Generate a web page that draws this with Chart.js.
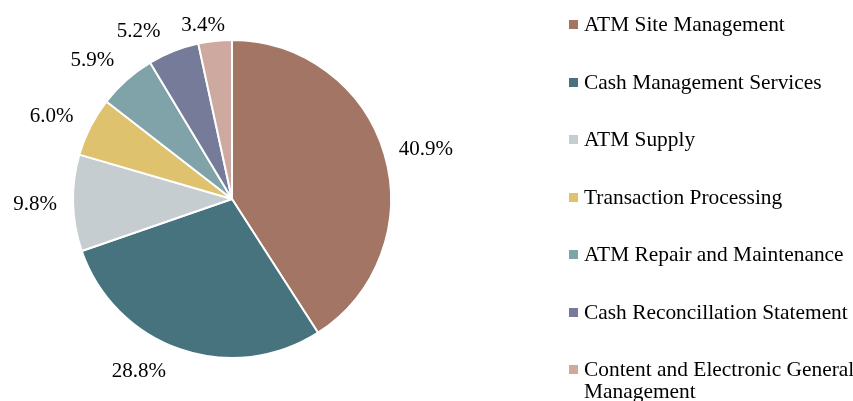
<!DOCTYPE html>
<html>
<head>
<meta charset="utf-8">
<script src="https://cdn.jsdelivr.net/npm/chart.js@4.4.1/dist/chart.umd.min.js"></script>
<style>
  html, body { margin: 0; padding: 0; background: #fff; }
  #wrap { position: relative; width: 853px; height: 401px; overflow: hidden; }
  #c { position: absolute; left: 0; top: 0; }
  .lg { position: absolute; left: 569px; font-family: "Liberation Serif", "Times New Roman", serif; font-size: 21.4px; color: #000; line-height: 22px; }
  .lg .box { position: absolute; left: 0; top: 7px; width: 9px; height: 9px; }
  .lg .txt { position: absolute; left: 15px; top: 0; width: 290px; white-space: normal; }
</style>
</head>
<body>
<div id="wrap">
  <canvas id="c" width="853" height="401"></canvas>
</div>
<script>
const categories = [
  "ATM Site Management",
  "Cash Management Services",
  "ATM Supply",
  "Transaction Processing",
  "ATM Repair and Maintenance",
  "Cash Reconcillation Statement",
  "Content and Electronic General Management"
];
const shares = [40.9, 28.8, 9.8, 6.0, 5.9, 5.2, 3.4];
const colors = ["#A27564", "#47737E", "#C5CDD0", "#DFC26D", "#7FA3A8", "#767B99", "#CDA9A0"];
const labelNudge = [[0, 2], [-27, 0], [0, 1], [-5, 0], [-9, -2], [-21, 2], [-8, 7]];

const FONT = '21px "Liberation Serif", "Times New Roman", serif';

const outsideLabels = {
  id: 'outsideLabels',
  afterDatasetsDraw(chart) {
    const ctx = chart.ctx;
    const meta = chart.getDatasetMeta(0);
    ctx.save();
    ctx.font = FONT;
    ctx.fillStyle = '#000';
    ctx.textAlign = 'center';
    ctx.textBaseline = 'middle';
    meta.data.forEach((arc, i) => {
      const p = arc.getProps(['x', 'y', 'startAngle', 'endAngle', 'outerRadius'], true);
      const mid = (p.startAngle + p.endAngle) / 2;
      const ux = Math.cos(mid), uy = Math.sin(mid);
      const R = p.outerRadius + 16;
      const txt = shares[i].toFixed(1) + '%';
      const w = ctx.measureText(txt).width;
      const h = 14;
      const cx = p.x + ux * R + ux * w / 2 + labelNudge[i][0];
      const cy = p.y + uy * R + uy * h / 2 + labelNudge[i][1];
      ctx.fillText(txt, cx, cy);
    });
    ctx.restore();
  }
};

new Chart(document.getElementById('c'), {
  type: 'pie',
  data: {
    labels: categories,
    datasets: [{
      data: shares,
      backgroundColor: colors,
      borderColor: '#ffffff',
      borderWidth: 2
    }]
  },
  options: {
    responsive: false,
    animation: false,
    layout: { padding: { left: 72, right: 461, top: 39, bottom: 42 } },
    plugins: {
      legend: { display: false },
      tooltip: { enabled: false }
    }
  },
  plugins: [outsideLabels]
});

// HTML legend
const wrap = document.getElementById('wrap');
categories.forEach((name, i) => {
  const d = document.createElement('div');
  d.className = 'lg';
  d.style.top = (13 + i * 57.5) + 'px';
  const b = document.createElement('div');
  b.className = 'box';
  b.style.background = colors[i];
  const t = document.createElement('div');
  t.className = 'txt';
  t.textContent = name;
  d.appendChild(b);
  d.appendChild(t);
  wrap.appendChild(d);
});
</script>
</body>
</html>
